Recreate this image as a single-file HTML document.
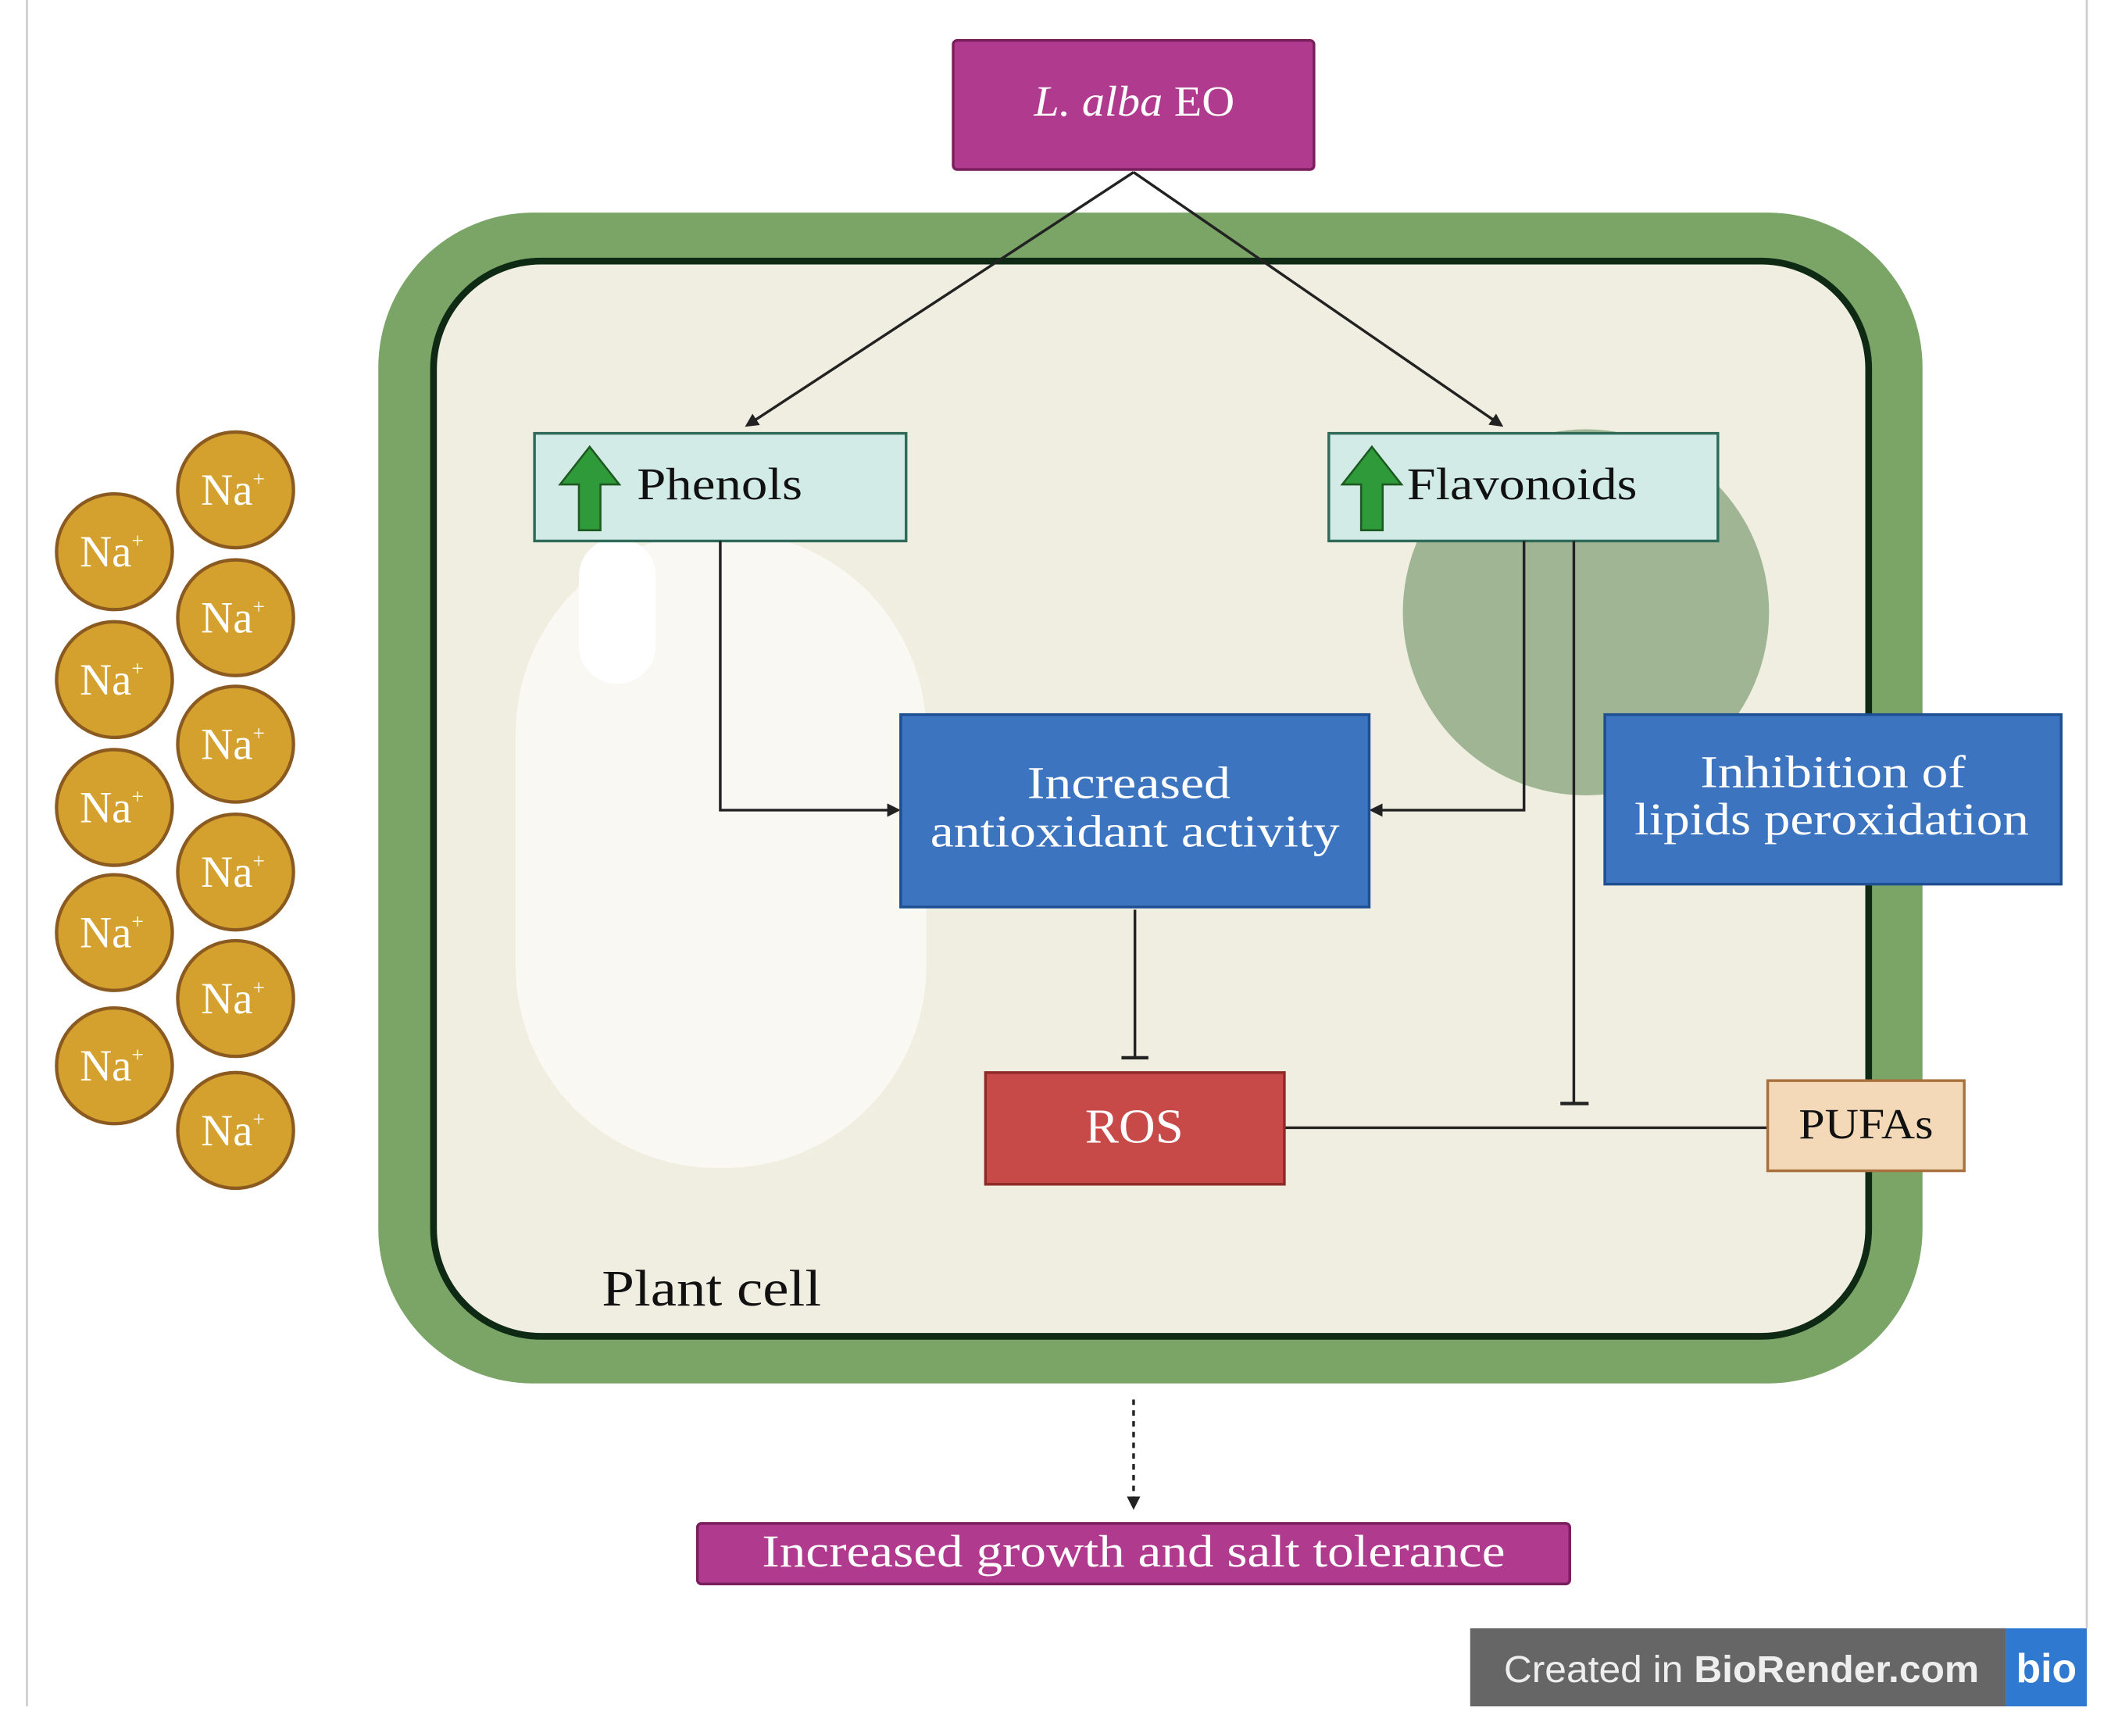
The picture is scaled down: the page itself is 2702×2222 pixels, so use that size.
<!DOCTYPE html>
<html><head><meta charset="utf-8"><style>html,body{margin:0;padding:0;background:#fff}svg{display:block}</style></head>
<body>
<svg width="2702" height="2222" viewBox="0 0 1568 1290" preserveAspectRatio="none" xmlns="http://www.w3.org/2000/svg" font-family="Liberation Serif, serif">
<defs>
<marker id="ah" markerWidth="10" markerHeight="10" refX="8" refY="5" orient="auto" markerUnits="userSpaceOnUse"><path d="M0,0 L10,5 L0,10 Z" fill="#222"/></marker>
</defs>
<rect width="1568" height="1290" fill="#fff"/>
<line x1="20" y1="0" x2="20" y2="1268" stroke="#ccc" stroke-width="1.5"/>
<line x1="1550" y1="0" x2="1550" y2="1210" stroke="#ccc" stroke-width="1.5"/>
<rect x="281" y="158" width="1147" height="870" rx="115" fill="#7aa566"/>
<rect x="322" y="194" width="1066" height="799" rx="80" fill="#f0eee0" stroke="#0f2a14" stroke-width="5"/>
<rect x="383" y="395" width="305" height="473" rx="150" fill="#f9f8f3"/>
<rect x="430" y="400" width="57" height="108" rx="28" fill="#fff"/>
<circle cx="1178" cy="455" r="136" fill="#a0b593"/>
<rect x="708" y="30" width="268" height="96" rx="3" fill="#b03a8e" stroke="#7a1f5e" stroke-width="2"/>
<text x="768" y="86" font-size="32" fill="#fff" textLength="149" lengthAdjust="spacingAndGlyphs"><tspan font-style="italic">L. alba</tspan> EO</text>
<line x1="842" y1="128" x2="555" y2="316" stroke="#222" stroke-width="2" marker-end="url(#ah)"/>
<line x1="842" y1="128" x2="1115" y2="316" stroke="#222" stroke-width="2" marker-end="url(#ah)"/>
<rect x="397" y="322" width="276" height="80" fill="#d2ebe6" stroke="#2f6a5a" stroke-width="2"/>
<rect x="987" y="322" width="289" height="80" fill="#d2ebe6" stroke="#2f6a5a" stroke-width="2"/>
<path d="M438,332 L460,360 L446,360 L446,394 L430,394 L430,360 L416,360 Z" fill="#2f9a3a" stroke="#1d5a22" stroke-width="1.5"/>
<path d="M1019,332 L1041,360 L1027,360 L1027,394 L1011,394 L1011,360 L997,360 Z" fill="#2f9a3a" stroke="#1d5a22" stroke-width="1.5"/>
<text x="473" y="371" font-size="34" fill="#111" textLength="123" lengthAdjust="spacingAndGlyphs">Phenols</text>
<text x="1045" y="371" font-size="34" fill="#111" textLength="171" lengthAdjust="spacingAndGlyphs">Flavonoids</text>
<polyline points="535,402 535,602 667,602" fill="none" stroke="#222" stroke-width="2" marker-end="url(#ah)"/>
<polyline points="1132,402 1132,602 1019,602" fill="none" stroke="#222" stroke-width="2" marker-end="url(#ah)"/>
<line x1="1169" y1="402" x2="1169" y2="820" stroke="#222" stroke-width="2"/>
<line x1="1159" y1="820" x2="1180" y2="820" stroke="#222" stroke-width="2.5"/>
<line x1="843" y1="676" x2="843" y2="786" stroke="#222" stroke-width="2"/>
<line x1="833" y1="786" x2="853" y2="786" stroke="#222" stroke-width="2.5"/>
<line x1="954" y1="838" x2="1313" y2="838" stroke="#222" stroke-width="2"/>
<rect x="669" y="531" width="348" height="143" fill="#3d74c0" stroke="#1f4f93" stroke-width="2"/>
<text x="763" y="593" font-size="34" fill="#fff" textLength="151" lengthAdjust="spacingAndGlyphs">Increased</text>
<text x="691" y="629" font-size="34" fill="#fff" textLength="304" lengthAdjust="spacingAndGlyphs">antioxidant activity</text>
<rect x="1192" y="531" width="339" height="126" fill="#3d74c0" stroke="#1f4f93" stroke-width="2"/>
<text x="1263" y="585" font-size="34" fill="#fff" textLength="197" lengthAdjust="spacingAndGlyphs">Inhibition of</text>
<text x="1214" y="620" font-size="34" fill="#fff" textLength="293" lengthAdjust="spacingAndGlyphs">lipids peroxidation</text>
<rect x="732" y="797" width="222" height="83" fill="#c84a48" stroke="#8e2a28" stroke-width="2"/>
<text x="806" y="849" font-size="36" fill="#fff" textLength="73" lengthAdjust="spacingAndGlyphs">ROS</text>
<rect x="1313" y="803" width="146" height="67" fill="#f3d9b7" stroke="#a8703c" stroke-width="2"/>
<text x="1336" y="846" font-size="32" fill="#111" textLength="100" lengthAdjust="spacingAndGlyphs">PUFAs</text>
<text x="447" y="970" font-size="38" fill="#111" textLength="163" lengthAdjust="spacingAndGlyphs">Plant cell</text>
<line x1="842" y1="1040" x2="842" y2="1120" stroke="#222" stroke-width="2" stroke-dasharray="4,4" marker-end="url(#ah)"/>
<rect x="518" y="1132" width="648" height="45" rx="3" fill="#b03a8e" stroke="#7a1f5e" stroke-width="2"/>
<text x="566" y="1164" font-size="34" fill="#fff" textLength="552" lengthAdjust="spacingAndGlyphs">Increased growth and salt tolerance</text>
<rect x="1092" y="1210" width="398" height="58" fill="#666"/>
<text x="1117" y="1250" font-family="Liberation Sans, sans-serif" font-size="28" fill="#eee" textLength="353" lengthAdjust="spacingAndGlyphs">Created in <tspan font-weight="bold">BioRender.com</tspan></text>
<rect x="1490" y="1210" width="60" height="58" fill="#2f7ad0"/>
<text x="1520" y="1250" text-anchor="middle" font-family="Liberation Sans, sans-serif" font-weight="bold" font-size="30" fill="#fff">bio</text>
<g fill="#d4a02e" stroke="#8a5a20" stroke-width="2.5">
<circle cx="85" cy="410" r="43"/><circle cx="85" cy="505" r="43"/><circle cx="85" cy="600" r="43"/><circle cx="85" cy="693" r="43"/><circle cx="85" cy="792" r="43"/>
<circle cx="175" cy="364" r="43"/><circle cx="175" cy="459" r="43"/><circle cx="175" cy="553" r="43"/><circle cx="175" cy="648" r="43"/><circle cx="175" cy="742" r="43"/><circle cx="175" cy="840" r="43"/>
</g>
<g font-size="33" fill="#fff" text-anchor="middle">
<text x="83" y="421">Na<tspan font-size="16" dy="-14">+</tspan></text>
<text x="83" y="516">Na<tspan font-size="16" dy="-14">+</tspan></text>
<text x="83" y="611">Na<tspan font-size="16" dy="-14">+</tspan></text>
<text x="83" y="704">Na<tspan font-size="16" dy="-14">+</tspan></text>
<text x="83" y="803">Na<tspan font-size="16" dy="-14">+</tspan></text>
<text x="173" y="375">Na<tspan font-size="16" dy="-14">+</tspan></text>
<text x="173" y="470">Na<tspan font-size="16" dy="-14">+</tspan></text>
<text x="173" y="564">Na<tspan font-size="16" dy="-14">+</tspan></text>
<text x="173" y="659">Na<tspan font-size="16" dy="-14">+</tspan></text>
<text x="173" y="753">Na<tspan font-size="16" dy="-14">+</tspan></text>
<text x="173" y="851">Na<tspan font-size="16" dy="-14">+</tspan></text>
</g>
</svg>
</body></html>
